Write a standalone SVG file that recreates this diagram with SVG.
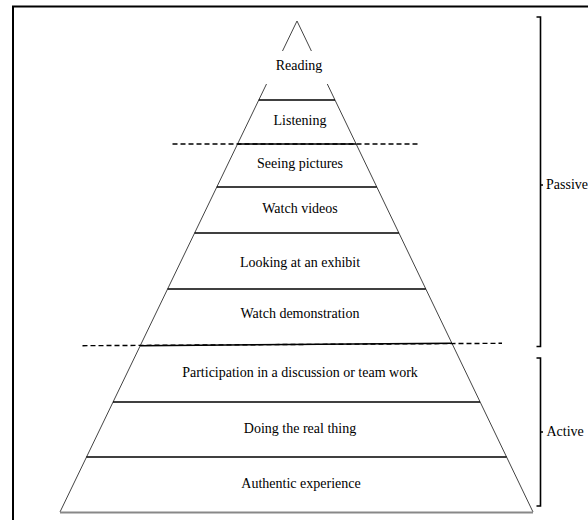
<svg xmlns="http://www.w3.org/2000/svg" width="588" height="520" viewBox="0 0 588 520">
<style>
.t{font-family:'Liberation Serif','Times New Roman',Times,serif;font-size:14px;fill:#000}
.lbl{text-anchor:middle}
.side{stroke:#444;stroke-width:1;fill:none}
.tier{stroke:#000;stroke-width:1.6;fill:none}
.dash{stroke:#000;stroke-width:1.4;stroke-dasharray:5 3;fill:none}
.br{stroke:#000;stroke-width:1.6;fill:none}
</style>
<rect x="0" y="0" width="588" height="520" fill="#fff"/>
<path d="M13 520 V6.5 H588" stroke="#000" stroke-width="2" fill="none"/>
<g id="connectors">
<path class="side" d="M282.5 51 L297 21 L311.4 51"/>
<path class="side" d="M266.5 84 L60 512"/>
<path class="side" d="M327.3 84 L533 512"/>
<line class="dash" x1="172.5" y1="144" x2="418" y2="144"/>
<line class="dash" x1="82.5" y1="345.7" x2="502" y2="343.3"/>
</g>
<g font-family="Liberation Serif, serif" font-size="14">
<g id="reading"><text class="t lbl" x="299" y="70">Reading</text></g>
<g id="listening"><line class="tier" x1="258.8" y1="100" x2="335" y2="100"/><text class="t lbl" x="300" y="125">Listening</text></g>
<g id="seeing"><line class="tier" x1="237.6" y1="144" x2="356.1" y2="144"/><text class="t lbl" x="300" y="168">Seeing pictures</text></g>
<g id="videos"><line class="tier" x1="216.8" y1="187" x2="376.8" y2="187"/><text class="t lbl" x="300" y="213">Watch videos</text></g>
<g id="exhibit"><line class="tier" x1="194.6" y1="233" x2="398.9" y2="233"/><text class="t lbl" x="300" y="267">Looking at an exhibit</text></g>
<g id="demo"><line class="tier" x1="167.6" y1="289" x2="425.8" y2="289"/><text class="t lbl" x="300" y="318">Watch demonstration</text></g>
<g id="discussion"><line class="tier" x1="140.2" y1="345.7" x2="452" y2="343.3"/><text class="t lbl" x="300" y="377">Participation in a discussion or team work</text></g>
<g id="doing"><line class="tier" x1="113" y1="402" x2="480" y2="402"/><text class="t lbl" x="300" y="433">Doing the real thing</text></g>
<g id="authentic"><line class="tier" x1="86.4" y1="457" x2="506.6" y2="457"/><text class="t lbl" x="301" y="488">Authentic experience</text></g>
<g id="base"><line x1="60" y1="512.5" x2="533" y2="512.5" stroke="#888" stroke-width="2"/></g>
<g id="passive"><path class="br" d="M536.5 17 H540.5 V346.5 H536.5 M540.5 185 H543"/><text class="t" x="546" y="189">Passive</text></g>
<g id="active"><path class="br" d="M536.5 358 H540.5 V506 H536.5 M540.5 432 H543"/><text class="t" x="546.5" y="436">Active</text></g>
</g>
</svg>
